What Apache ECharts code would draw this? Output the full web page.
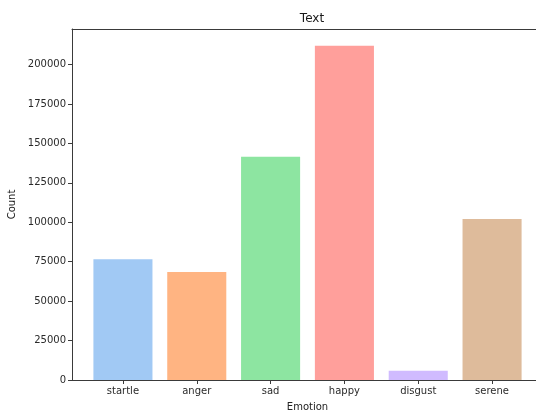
<!DOCTYPE html>
<html><head><meta charset="utf-8">
<script src="https://cdn.jsdelivr.net/npm/echarts@6/dist/echarts.min.js"></script>
<style>html,body{margin:0;padding:0;background:#fff}#c{width:536px;height:410px}</style>
</head><body><div id="c"></div>
<script>
const categories = ['startle', 'anger', 'sad', 'happy', 'disgust', 'serene'];
const counts = [76500, 68500, 141600, 212000, 5900, 102100];
const yTicks = [0, 25000, 50000, 75000, 100000, 125000, 150000, 175000, 200000];
const palette = ['#a1c9f4', '#ffb482', '#8de5a1', '#ff9f9b', '#d0bbff', '#debb9b'];

const xIdx = categories.map((_, i) => i);
const FONT = 'DejaVu Sans';
const chart = echarts.init(document.getElementById('c'), null, {renderer: 'canvas'});
const spine = {show: true, onZero: false, lineStyle: {color: '#3a3a3a', width: 1}};
chart.setOption({
  animation: false,
  backgroundColor: '#fff',
  color: palette,
  title: {text: 'Text', left: 307, top: 8, textAlign: 'center',
    textStyle: {fontFamily: FONT, fontSize: 12, fontWeight: 'normal', color: '#1a1a1a'}},
  grid: {left: 72, top: 29, bottom: 30, right: -7, containLabel: false, outerBoundsMode: 'none'},
  xAxis: [{
    type: 'value', min: -0.69, max: 5.69, position: 'bottom',
    name: 'Emotion', nameLocation: 'middle', nameGap: 22,
    nameTextStyle: {fontFamily: FONT, fontSize: 10, color: '#222'},
    axisLine: spine, splitLine: {show: false},
    axisTick: {show: true, length: 4, customValues: xIdx, lineStyle: {color: '#3a3a3a'}},
    axisLabel: {customValues: xIdx, margin: 6, fontFamily: FONT, fontSize: 10, color: '#2a2a2a',
      formatter: v => categories[Math.round(v)] ?? ''}
  }, {
    type: 'value', min: -0.69, max: 5.69, position: 'top',
    axisLine: spine, axisTick: {show: false}, axisLabel: {show: false}, splitLine: {show: false}
  }],
  yAxis: {
    type: 'value', min: 0, max: 222600, position: 'left',
    name: 'Count', nameLocation: 'middle', nameGap: 53,
    nameTextStyle: {fontFamily: FONT, fontSize: 10, color: '#222'},
    axisLine: spine, splitLine: {show: false},
    axisTick: {show: true, length: 4, customValues: yTicks, lineStyle: {color: '#3a3a3a'}},
    axisLabel: {customValues: yTicks, margin: 6, fontFamily: FONT, fontSize: 10, color: '#2a2a2a',
      formatter: v => String(v)}
  },
  series: [{
    type: 'bar', xAxisIndex: 0, colorBy: 'data', barWidth: '80%',
    data: counts.map((v, i) => [i, v])
  }]
});
</script></body></html>
